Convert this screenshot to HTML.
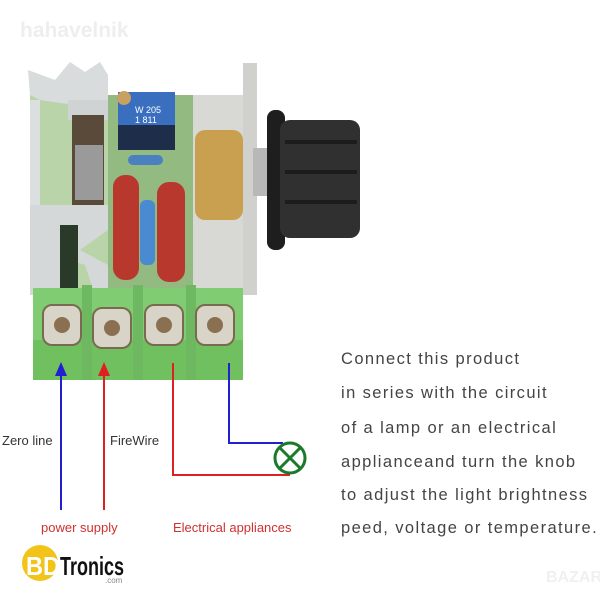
<!DOCTYPE html>
<html><head><meta charset="utf-8"><style>
body{margin:0;width:600px;height:600px;background:#fff;overflow:hidden;font-family:"Liberation Sans",sans-serif}
</style></head><body>
<svg width="600" height="600" xmlns="http://www.w3.org/2000/svg">
<text x="20" y="37" font-size="21" font-weight="bold" fill="#eceef0" font-family="Liberation Sans">hahavelnik</text>
<!-- heatsink -->
<rect x="30" y="95" width="80" height="200" fill="#b8d4a8"/>
<polygon points="28,70 55,80 70,62 85,72 100,62 108,75 108,110 75,105 40,100 30,95" fill="#d8dcdc"/>
<rect x="30" y="100" width="10" height="195" fill="#dcdfe0"/>
<rect x="68" y="100" width="40" height="20" fill="#cfd3d4"/>
<rect x="72" y="115" width="32" height="90" fill="#5a4a3a"/>
<rect x="75" y="145" width="28" height="55" fill="#9a9a9a"/>
<polygon points="30,205 108,205 108,230 80,250 108,265 108,295 95,295 85,265 70,260 60,295 30,295" fill="#d4d8d8"/>
<rect x="60" y="225" width="18" height="70" fill="#2a3a28"/>
<!-- PCB -->
<rect x="108" y="95" width="140" height="200" fill="#93ba80"/>
<rect x="118" y="92" width="57" height="58" fill="#3a6fc0"/>
<rect x="118" y="125" width="57" height="25" fill="#1e2e4a"/>
<circle cx="124" cy="98" r="7" fill="#c8a060"/>
<text x="135" y="113" font-size="9" fill="#fff">W 205</text>
<text x="135" y="123" font-size="9" fill="#fff">1 811</text>
<rect x="128" y="155" width="35" height="10" rx="5" fill="#4a80c0"/>
<rect x="113" y="175" width="26" height="105" rx="12" fill="#b8382e"/>
<rect x="157" y="182" width="28" height="100" rx="12" fill="#b8382e"/>
<rect x="140" y="200" width="15" height="65" rx="6" fill="#4a8ad0"/>
<rect x="193" y="95" width="55" height="200" fill="#d8d8d4"/>
<rect x="195" y="130" width="48" height="90" rx="10" fill="#c8a050"/>
<rect x="243" y="63" width="14" height="232" fill="#d0d0cc"/>
<rect x="253" y="148" width="14" height="48" fill="#b8b8b8"/>
<!-- knob -->
<rect x="267" y="110" width="18" height="140" rx="8" fill="#1e1e1e"/>
<rect x="280" y="120" width="80" height="118" rx="10" fill="#303030"/>
<rect x="285" y="140" width="72" height="4" fill="#1c1c1c"/>
<rect x="285" y="170" width="72" height="4" fill="#1c1c1c"/>
<rect x="285" y="200" width="72" height="4" fill="#1c1c1c"/>
<!-- terminal block -->
<rect x="33" y="288" width="210" height="92" fill="#7fcc72"/>
<rect x="33" y="340" width="210" height="40" fill="#70c060"/>
<g fill="#6fb862"><rect x="82" y="285" width="10" height="95"/><rect x="133" y="285" width="10" height="95"/><rect x="186" y="285" width="10" height="95"/></g>
<g fill="#d8d4c8" stroke="#7a6a50" stroke-width="2">
<rect x="43" y="305" width="38" height="40" rx="9"/><rect x="93" y="308" width="38" height="40" rx="9"/><rect x="145" y="305" width="38" height="40" rx="9"/><rect x="196" y="305" width="38" height="40" rx="9"/></g>
<g fill="#8a7050"><circle cx="62" cy="325" r="8"/><circle cx="112" cy="328" r="8"/><circle cx="164" cy="325" r="8"/><circle cx="215" cy="325" r="8"/></g>
<!-- wires -->
<line x1="61" y1="372" x2="61" y2="510" stroke="#2020d0" stroke-width="2"/>
<polygon points="61,362 55,376 67,376" fill="#2020d0"/>
<line x1="104" y1="372" x2="104" y2="510" stroke="#e02020" stroke-width="2"/>
<polygon points="104,362 98,376 110,376" fill="#e02020"/>
<polyline points="173,363 173,475 290,475" fill="none" stroke="#e02020" stroke-width="2"/>
<polyline points="229,363 229,443 283,443" fill="none" stroke="#2020d0" stroke-width="2"/>
<circle cx="290" cy="458" r="15" fill="#fff" stroke="#1a7a2a" stroke-width="3"/>
<line x1="280" y1="448" x2="300" y2="468" stroke="#1a7a2a" stroke-width="3"/>
<line x1="300" y1="448" x2="280" y2="468" stroke="#1a7a2a" stroke-width="3"/>
<g font-size="13" fill="#333"><text x="2" y="445">Zero line</text><text x="110" y="445">FireWire</text></g>
<g font-size="13" fill="#d03030"><text x="41" y="532">power supply</text><text x="173" y="532">Electrical appliances</text></g>
<g font-size="16.5" fill="#444" letter-spacing="1.4">
<text x="341" y="364">Connect this product</text>
<text x="341" y="398">in series with the circuit</text>
<text x="341" y="433">of a lamp or an electrical</text>
<text x="341" y="467">applianceand turn the knob</text>
<text x="341" y="500">to adjust the light brightness</text>
<text x="341" y="533">peed, voltage or temperature.</text></g>
<!-- logo -->
<circle cx="40" cy="563" r="18" fill="#f2c318"/>
<text x="26" y="575" font-size="26" font-weight="bold" fill="#fff" font-family="Liberation Sans Narrow,Liberation Sans" textLength="34" lengthAdjust="spacingAndGlyphs">BD</text>
<text x="60" y="575" font-size="26" font-weight="bold" fill="#111" textLength="64" lengthAdjust="spacingAndGlyphs">Tronics</text>
<text x="105" y="583" font-size="8" fill="#888">.com</text>
<text x="546" y="582" font-size="16" font-weight="bold" fill="#eef0f2">BAZAR</text>
</svg>
</body></html>
